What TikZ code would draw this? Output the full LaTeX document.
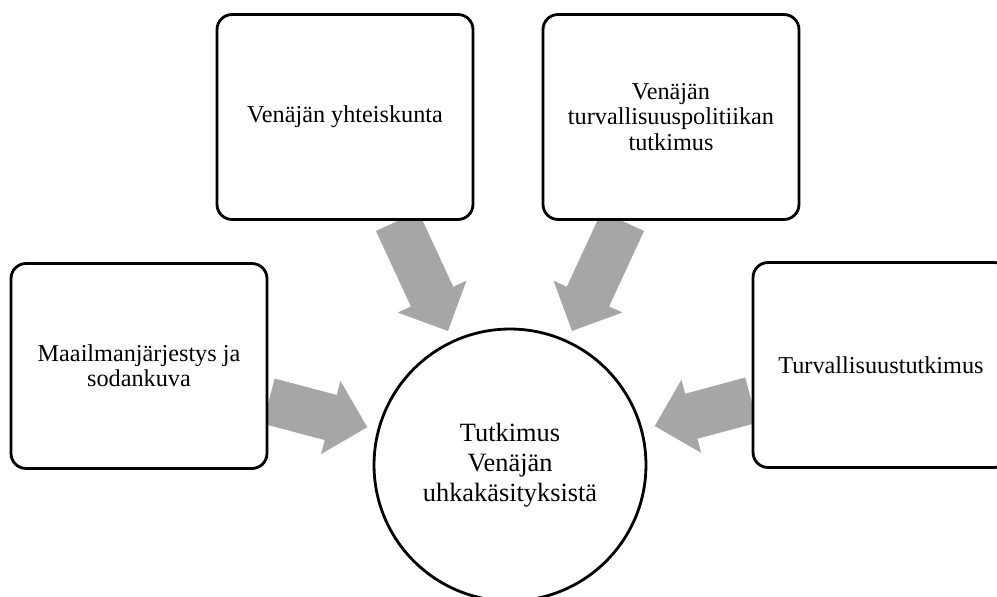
\documentclass[tikz,border=0pt]{standalone}
\usepackage{fontspec}
\setmainfont{Liberation Serif}
\usetikzlibrary{shapes.arrows,calc,backgrounds}
\definecolor{flowgray}{HTML}{A6A6A6}
\begin{document}
\begin{tikzpicture}[x=0.02cm,y=-0.02cm,
boxstyle/.style={draw,line width=1.6pt,rounded corners=0.3cm,fill=white,minimum width=5.12cm,minimum height=4.1cm,align=center,font=\fontsize{13.8}{14.4}\selectfont},
hubstyle/.style={circle,draw,line width=1.6pt,fill=white,minimum size=5.44cm,align=center,font=\fontsize{15}{17}\selectfont},
flowstyle/.style={single arrow,fill=flowgray,inner xsep=0pt,inner ysep=0.46cm,single arrow head extend=0.29cm,single arrow tip angle=90,sloped,allow upside down,anchor=tail,pos=0}]
\useasboundingbox (0,0) rectangle (997,597);
\node[hubstyle](hub) at (510,465){Tutkimus\\Venäjän\\uhkakäsityksistä};
\foreach \name/\x/\y/\txt in {lbox/139/366/{Maailmanjärjestys ja\\sodankuva},
 tlbox/345/117/{Venäjän yhteiskunta},
 trbox/671/117/{Venäjän\\turvallisuuspolitiikan\\tutkimus},
 rbox/881/365/{Turvallisuustutkimus}}
{\node[boxstyle](\name) at (\x,\y){\txt};
}
\begin{scope}[on background layer]
\path ($(lbox.east)+(0,35)$) -- (hub) node[flowstyle,minimum height=2.04cm]{};
\path ($(rbox.west)+(0,35)$) -- (hub) node[flowstyle,minimum height=2.0cm]{};
\path ($(tlbox.south)+(52,0)$) -- (hub) node[flowstyle,minimum height=2.42cm]{};
\path ($(trbox.south)+(-48,0)$) -- (hub) node[flowstyle,minimum height=2.42cm]{};
\end{scope}


\end{tikzpicture}
\end{document}
